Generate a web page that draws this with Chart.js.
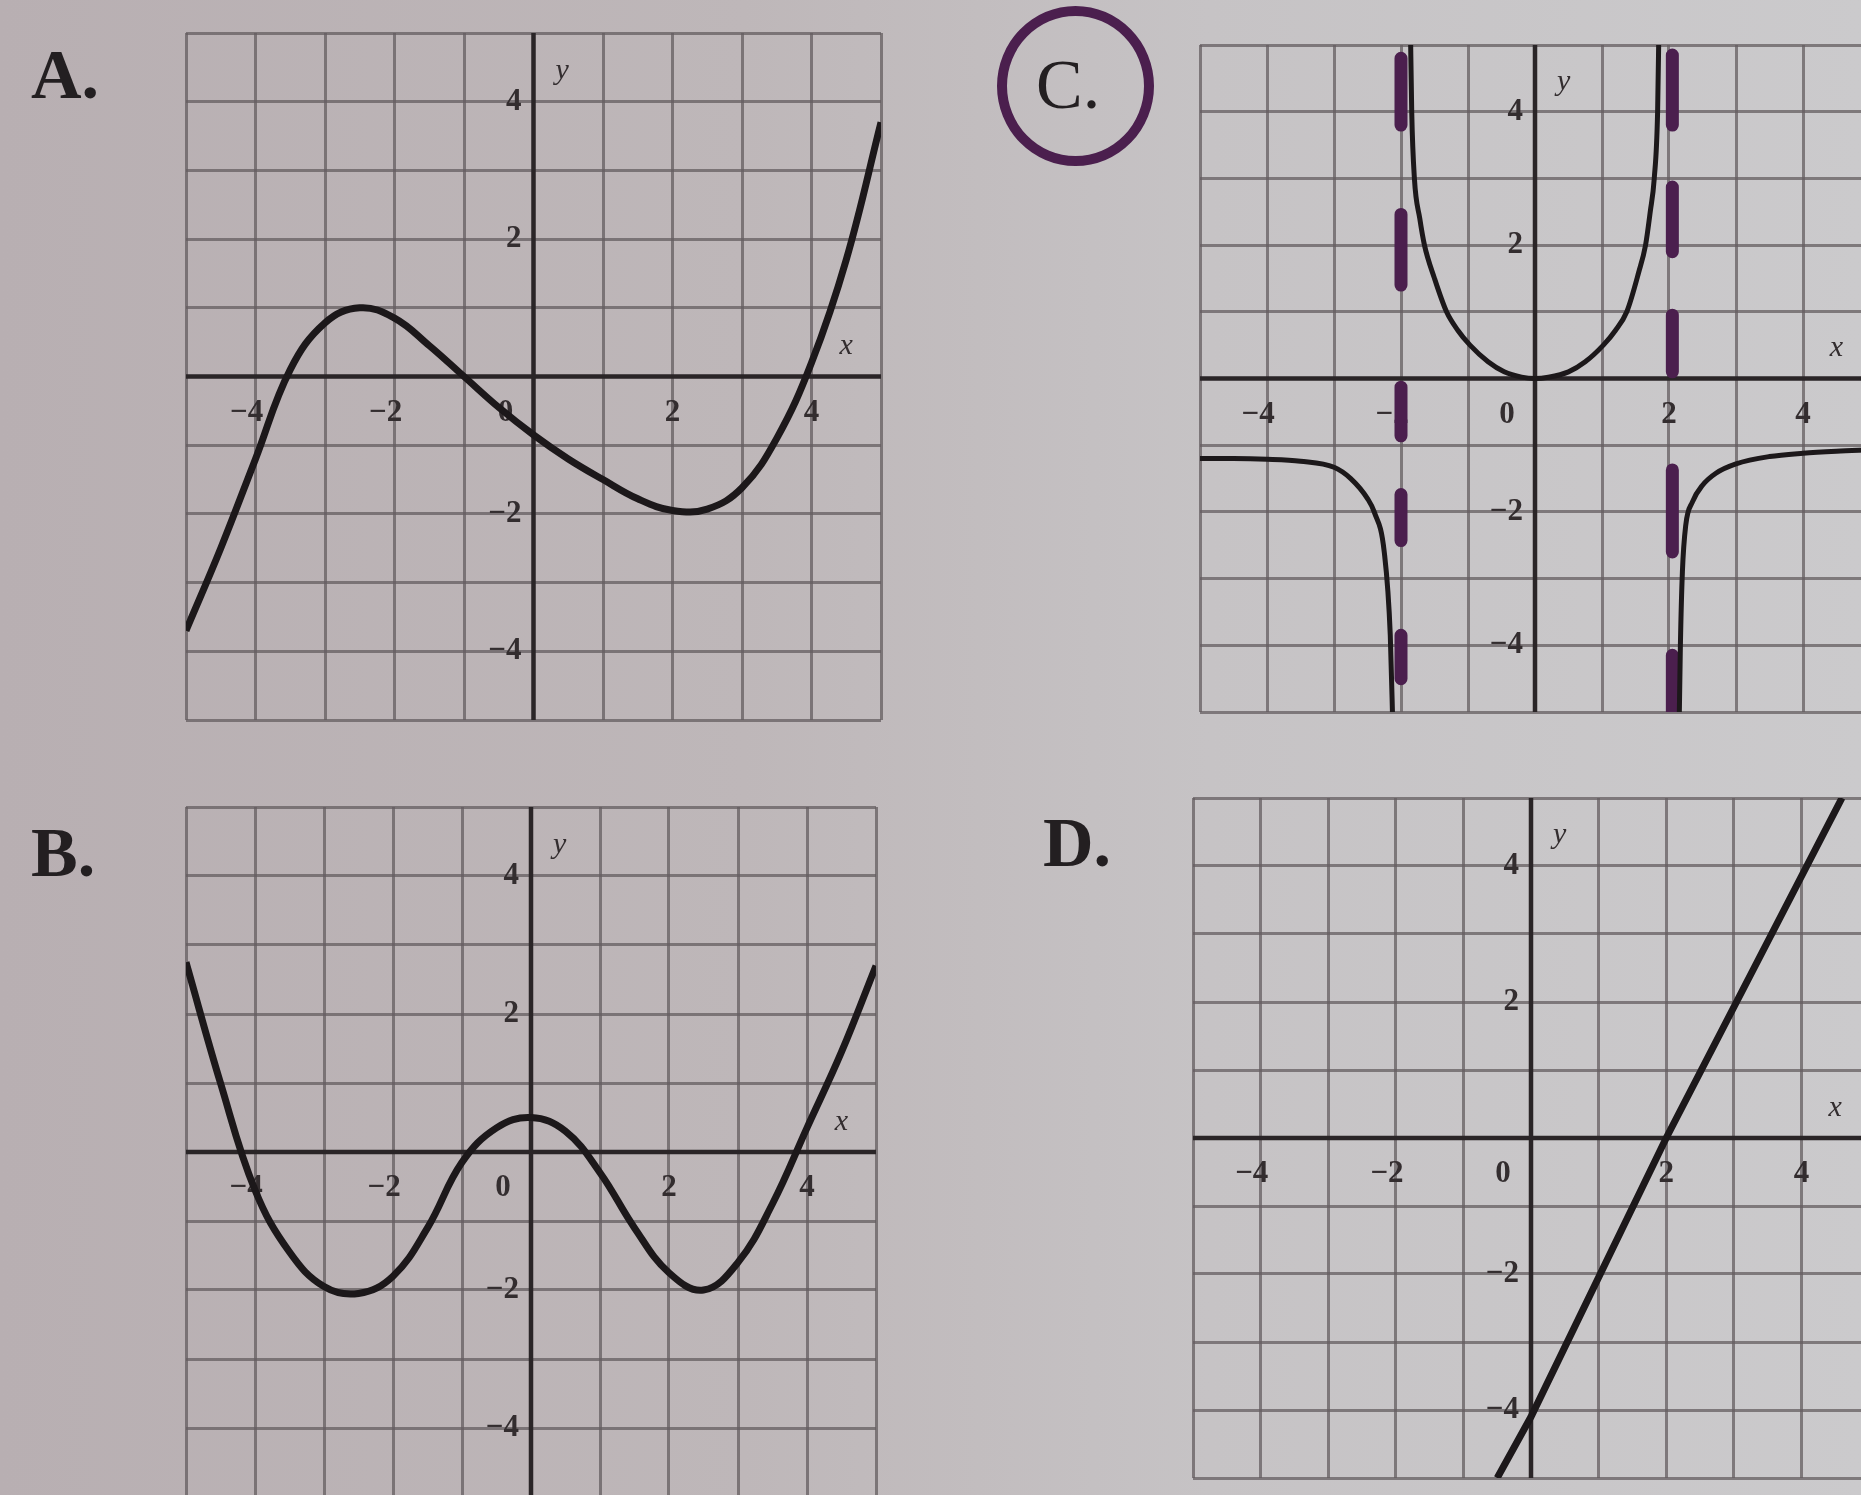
<!DOCTYPE html>
<html>
<head>
<meta charset="utf-8">
<script src="https://cdn.jsdelivr.net/npm/chart.js@4.4.1/dist/chart.umd.min.js"></script>
<style>
    html, body { margin: 0; padding: 0; width: 1861px; height: 1495px; overflow: hidden; }
    body {
        position: relative;
        background: linear-gradient(90deg, #b8afb2 0%, #beb7b9 40%, #c6c3c5 65%, #cbcacc 100%);
        font-family: "Liberation Serif", serif;
    }
    .panel { position: absolute; }
    .tag { position: absolute; font-size: 70px; font-weight: bold; line-height: 1; color: #231f21; }
    .ring { position: absolute; box-sizing: border-box; border: 10px solid #4b1f4e; border-radius: 50%; }
</style>
</head>
<body>
<div class="tag" style="left:31px;top:40px">A.</div>
<div class="tag" style="left:31px;top:818px">B.</div>
<div class="ring" style="left:997px;top:6px;width:157px;height:160px"></div>
<div class="tag" style="left:1036px;top:50px;font-weight:normal">C.</div>
<div class="tag" style="left:1043px;top:808px">D.</div>

<div class="panel" id="boxA"><canvas id="chartA"></canvas></div>
<div class="panel" id="boxB"><canvas id="chartB"></canvas></div>
<div class="panel" id="boxC"><canvas id="chartC"></canvas></div>
<div class="panel" id="boxD"><canvas id="chartD"></canvas></div>

<script>
    // tick labels printed on every graph
    const xTickLabels = [-4, -2, 0, 2, 4];
    const yTickLabels = [4, 2, -2, -4];

    // A: cubic-like curve
    const aX = [-5, -4.5, -4, -3.5, -3, -2.5, -2, -1.5, -1, -0.5, 0, 0.5, 1, 1.5, 2, 2.5, 3, 3.5, 4, 4.5, 5];
    const aY = [-3.7, -2.5, -1.2, 0.1, 0.78, 1.0, 0.85, 0.45, 0.0, -0.45, -0.85, -1.2, -1.5, -1.78, -1.95, -1.93, -1.62, -0.9, 0.2, 1.7, 3.7];

    // B: W-shaped curve
    const bX = [-5, -4.5, -4, -3.5, -3, -2.5, -2, -1.5, -1, -0.5, 0, 0.5, 1, 1.5, 2, 2.5, 3, 3.5, 4, 4.5, 5];
    const bY = [2.75, 1.0, -0.55, -1.45, -1.95, -2.05, -1.8, -1.1, -0.15, 0.35, 0.5, 0.3, -0.3, -1.1, -1.75, -2.0, -1.6, -0.75, 0.35, 1.45, 2.7];

    // C: three branches
    const cLeftX = [-5, -4.5, -4, -3.5, -3, -2.75, -2.5, -2.4, -2.25, -2.16, -2.12];
    const cLeftY = [-1.2, -1.2, -1.21, -1.24, -1.33, -1.5, -1.8, -2.0, -2.6, -3.85, -5.3];
    const cMidX = [-1.86, -1.84, -1.8, -1.72, -1.65, -1.5, -1.32, -1.15, -0.97, -0.7, -0.46, -0.2, 0, 0.2, 0.5, 0.75, 1.02, 1.2, 1.37, 1.55, 1.65, 1.72, 1.78, 1.83, 1.85];
    const cMidY = [5.3, 4.0, 3.0, 2.4, 2.0, 1.5, 1.0, 0.72, 0.5, 0.25, 0.1, 0.02, 0, 0.02, 0.1, 0.25, 0.5, 0.72, 1.0, 1.6, 2.0, 2.5, 3.0, 4.0, 5.3];
    const cRightX = [2.15, 2.17, 2.2, 2.25, 2.35, 2.5, 2.7, 3, 3.5, 4, 4.5, 5];
    const cRightY = [-5.3, -4.0, -2.9, -2.2, -1.85, -1.6, -1.42, -1.28, -1.17, -1.12, -1.09, -1.07];

    // C: hand-drawn asymptote dashes (x, then [from, to] pieces)
    const dashLeftX = -2;
    const dashLeftY = [[3.8, 4.8], [1.4, 2.46], [-0.86, -0.13], [-2.43, -1.74], [-4.5, -3.85]];
    const dashRightX = 2.05;
    const dashRightY = [[3.8, 4.85], [1.9, 2.87], [0.1, 0.95], [-2.6, -1.37], [-5.1, -4.15]];

    // D: straight line
    const dX = [-0.5, 0, 2, 4.6];
    const dY = [-5, -4.1, 0, 5];

    const INK = '#1c181a';
    const PURPLE = '#4b1f4e';
    const PAD = 8;

    const toPoints = (xs, ys) => xs.map((x, i) => ({ x, y: ys[i] }));

    const toDashes = (x, pieces) => {
        const pts = [];
        pieces.forEach(([a, b]) => {
            pts.push({ x, y: a }, { x, y: b }, { x, y: null });
        });
        return pts;
    };

    const curve = (data, extra = {}) => Object.assign({
        data,
        showLine: true,
        borderColor: INK,
        borderWidth: 7,
        pointRadius: 0,
        tension: 0.4,
        fill: false
    }, extra);

    const bookAxes = {
        id: 'bookAxes',
        beforeDatasetsDraw(chart) {
            const { ctx, scales: { x, y } } = chart;
            const x0 = x.getPixelForValue(0);
            const y0 = y.getPixelForValue(0);
            ctx.save();
            ctx.strokeStyle = '#2a2527';
            ctx.lineWidth = 4.5;
            ctx.beginPath();
            ctx.moveTo(x.left, y0);
            ctx.lineTo(x.right, y0);
            ctx.moveTo(x0, y.top);
            ctx.lineTo(x0, y.bottom);
            ctx.stroke();

            ctx.fillStyle = '#332d2f';
            ctx.font = 'bold 31px "Liberation Serif"';
            ctx.textBaseline = 'middle';
            xTickLabels.forEach(v => {
                const px = x.getPixelForValue(v);
                const py = y0 + 36;
                if (v === 0) {
                    ctx.textAlign = 'center';
                    ctx.fillText('0', x0 - 28, py);
                    return;
                }
                const digit = String(Math.abs(v));
                const w = ctx.measureText(digit).width;
                ctx.textAlign = 'center';
                ctx.fillText(digit, px, py);
                if (v < 0) {
                    ctx.textAlign = 'right';
                    ctx.fillText('\u2212', px - w / 2, py);
                }
            });
            yTickLabels.forEach(v => {
                ctx.textAlign = 'right';
                ctx.fillText(v < 0 ? '\u2212' + Math.abs(v) : String(v), x0 - 12, y.getPixelForValue(v));
            });

            ctx.font = 'italic 30px "Liberation Serif"';
            ctx.textAlign = 'left';
            ctx.fillText('y', x0 + 22, y.getPixelForValue(4.45));
            ctx.textAlign = 'center';
            ctx.fillText('x', x.getPixelForValue(4.5), y0 - 30);
            ctx.restore();
        }
    };

    function makeGraph(id, box, datasets) {
        const holder = document.getElementById('box' + id);
        holder.style.left = (box.left - PAD) + 'px';
        holder.style.top = (box.top - PAD) + 'px';
        holder.style.width = (box.width + PAD * 2) + 'px';
        holder.style.height = (box.height + PAD * 2) + 'px';

        const gridScale = (axis) => ({
            type: 'linear',
            min: -5,
            max: 5,
            ticks: { display: false, stepSize: 1 },
            grid: { color: 'rgba(100, 94, 96, 0.75)', lineWidth: 3, drawTicks: false },
            border: { display: false },
            afterFit(scale) {
                if (axis === 'x') scale.height = 0; else scale.width = 0;
            }
        });

        return new Chart(document.getElementById('chart' + id), {
            type: 'scatter',
            data: { datasets },
            options: {
                responsive: true,
                maintainAspectRatio: false,
                animation: false,
                layout: { padding: PAD },
                plugins: { legend: { display: false }, tooltip: { enabled: false } },
                scales: { x: gridScale('x'), y: gridScale('y') }
            },
            plugins: [bookAxes]
        });
    }

    makeGraph('A', { left: 186, top: 33, width: 695, height: 687 }, [
        curve(toPoints(aX, aY))
    ]);

    makeGraph('B', { left: 186, top: 807, width: 690, height: 690 }, [
        curve(toPoints(bX, bY))
    ]);

    makeGraph('C', { left: 1200, top: 45, width: 670, height: 667 }, [
        curve(toPoints(cLeftX, cLeftY), { borderWidth: 5, tension: 0, cubicInterpolationMode: 'monotone' }),
        curve(toPoints(cMidX, cMidY), { borderWidth: 5, tension: 0, cubicInterpolationMode: 'monotone' }),
        curve(toPoints(cRightX, cRightY), { borderWidth: 5, tension: 0, cubicInterpolationMode: 'monotone' }),
        curve(toDashes(dashLeftX, dashLeftY), { borderColor: PURPLE, borderWidth: 13, borderCapStyle: 'round', tension: 0, spanGaps: false }),
        curve(toDashes(dashRightX, dashRightY), { borderColor: PURPLE, borderWidth: 13, borderCapStyle: 'round', tension: 0, spanGaps: false })
    ]);

    makeGraph('D', { left: 1193, top: 798, width: 676, height: 680 }, [
        curve(toPoints(dX, dY), { tension: 0 })
    ]);
</script>
</body>
</html>
